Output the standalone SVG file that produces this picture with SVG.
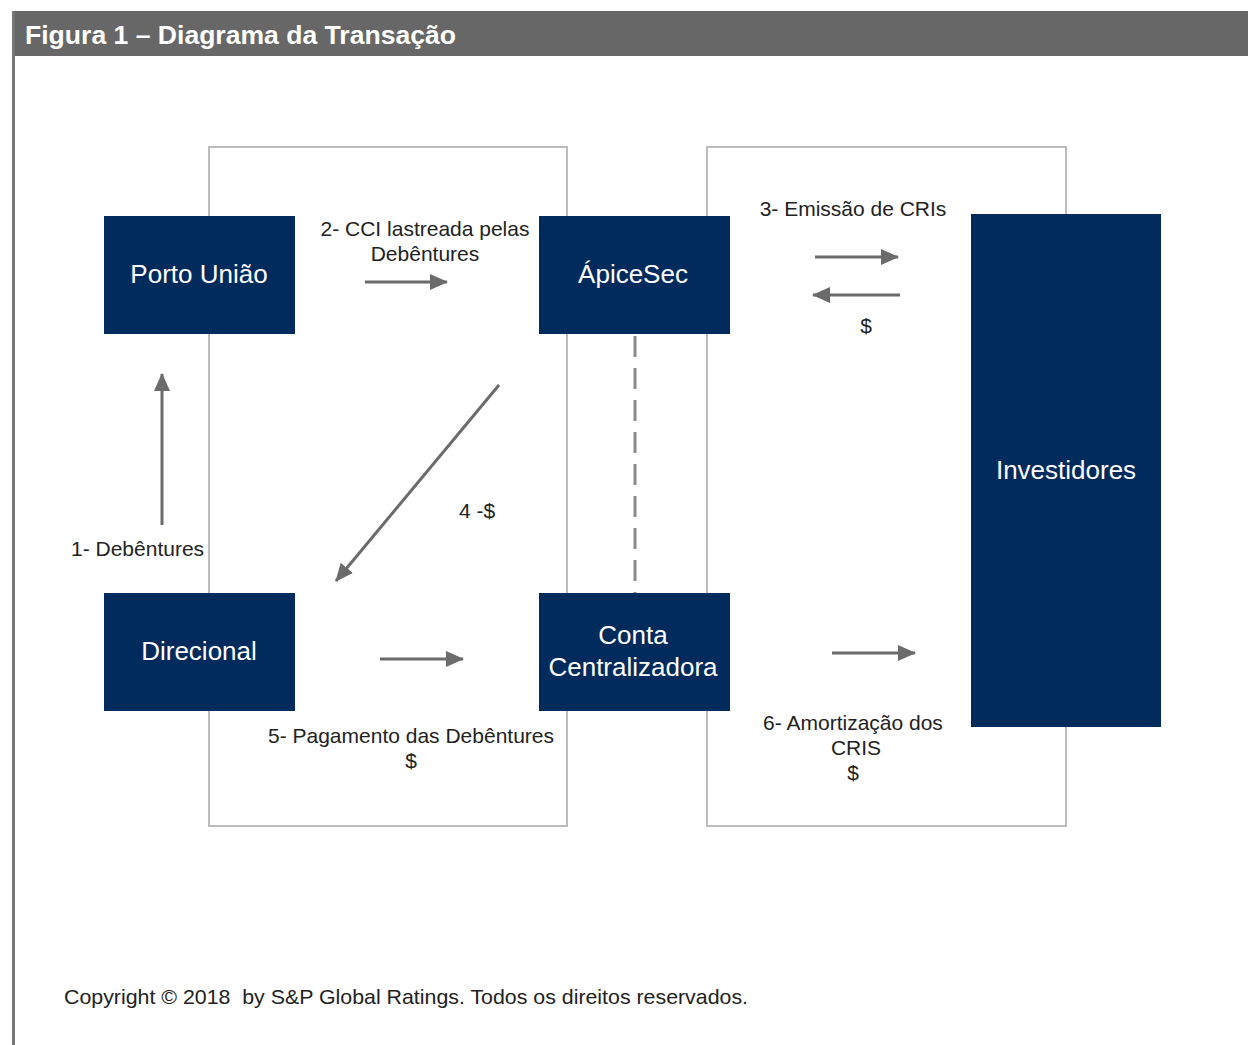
<svg xmlns="http://www.w3.org/2000/svg" width="1248" height="1045" viewBox="0 0 1248 1045">
  <style>
    .node { fill: #022b5d; }
    .ntext { font-family: "Liberation Sans", Arial, sans-serif; font-size: 26px; fill: #ffffff; text-anchor: middle; }
    .label { font-family: "Liberation Sans", Arial, sans-serif; font-size: 21px; fill: #222222; }
    .mid { text-anchor: middle; }
    .frame { fill: none; stroke: #bcbcbc; stroke-width: 2; }
    .arrow { stroke: #6b6b6b; stroke-width: 3; fill: none; marker-end: url(#head); }
    .dash { stroke: #8a8a8a; stroke-width: 3; fill: none; stroke-dasharray: 21 11; }
  </style>
  <defs>
    <marker id="head" viewBox="0 0 18 16" refX="17" refY="8" markerWidth="18" markerHeight="16" markerUnits="userSpaceOnUse" orient="auto">
      <path d="M0,0 L18,8 L0,16 Z" fill="#6b6b6b"/>
    </marker>
  </defs>

  <rect x="0" y="0" width="1248" height="1045" fill="#ffffff"/>

  <!-- title bar and left rule -->
  <g id="header">
    <rect x="12" y="11" width="1236" height="45" fill="#676767"/>
    <line x1="13.5" y1="11" x2="13.5" y2="1045" stroke="#777777" stroke-width="3"/>
    <text x="25" y="44" font-family="'Liberation Sans', Arial, sans-serif" font-size="26.5" font-weight="bold" fill="#ffffff" textLength="431" lengthAdjust="spacingAndGlyphs">Figura 1 – Diagrama da Transação</text>
  </g>

  <!-- grouping frames -->
  <g id="frames">
    <rect class="frame" x="209" y="147" width="358" height="679"/>
    <rect class="frame" x="707" y="147" width="359" height="679"/>
  </g>

  <!-- connectors -->
  <g id="connectors">
    <line class="arrow" x1="162" y1="525" x2="162" y2="374"/>
    <line class="arrow" x1="365" y1="282" x2="447" y2="282"/>
    <line class="arrow" x1="815" y1="257" x2="898" y2="257"/>
    <line class="arrow" x1="900" y1="295" x2="813" y2="295"/>
    <line class="arrow" x1="499" y1="385" x2="336" y2="581"/>
    <line class="arrow" x1="380" y1="659" x2="463" y2="659"/>
    <line class="arrow" x1="832" y1="653" x2="915" y2="653"/>
    <line class="dash" x1="635" y1="336" x2="635" y2="593"/>
  </g>

  <!-- nodes -->
  <g id="porto-uniao">
    <rect class="node" x="104" y="216" width="191" height="118"/>
    <text class="ntext" x="199" y="283">Porto União</text>
  </g>
  <g id="apicesec">
    <rect class="node" x="539" y="216" width="191" height="118"/>
    <text class="ntext" x="633" y="283">ÁpiceSec</text>
  </g>
  <g id="direcional">
    <rect class="node" x="104" y="593" width="191" height="118"/>
    <text class="ntext" x="199" y="660">Direcional</text>
  </g>
  <g id="conta-centralizadora">
    <rect class="node" x="539" y="593" width="191" height="118"/>
    <text class="ntext" x="633" y="644">Conta</text>
    <text class="ntext" x="633" y="676">Centralizadora</text>
  </g>
  <g id="investidores">
    <rect class="node" x="971" y="214" width="190" height="513"/>
    <text class="ntext" x="1066" y="479">Investidores</text>
  </g>

  <!-- flow labels -->
  <g id="labels">
    <text class="label" x="71" y="556">1- Debêntures</text>
    <text class="label mid" x="425" y="236">2- CCI lastreada pelas</text>
    <text class="label mid" x="425" y="261">Debêntures</text>
    <text class="label mid" x="853" y="216">3- Emissão de CRIs</text>
    <text class="label mid" x="866" y="333">$</text>
    <text class="label" x="459" y="518">4 -$</text>
    <text class="label mid" x="411" y="743">5- Pagamento das Debêntures</text>
    <text class="label mid" x="411" y="768">$</text>
    <text class="label mid" x="853" y="730">6- Amortização dos</text>
    <text class="label mid" x="856" y="755">CRIS</text>
    <text class="label mid" x="853" y="780">$</text>
  </g>

  <text class="label" x="64" y="1004" xml:space="preserve" style="white-space: pre" textLength="684" lengthAdjust="spacingAndGlyphs">Copyright © 2018  by S&amp;P Global Ratings. Todos os direitos reservados.</text>
</svg>
